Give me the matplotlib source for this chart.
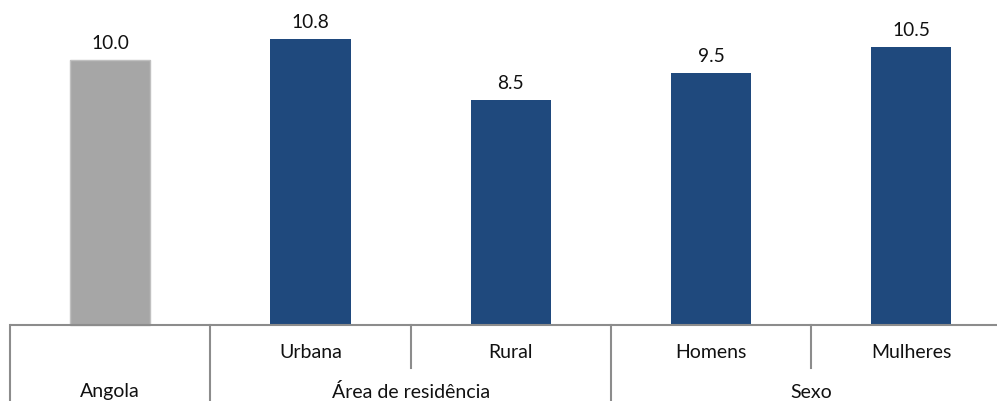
import matplotlib
matplotlib.use("Agg")
import matplotlib.pyplot as plt

categories = ["Angola", "Urbana", "Rural", "Homens", "Mulheres"]
values = [10.0, 10.8, 8.5, 9.5, 10.5]
group_labels = ["Angola", "Área de residência", "Sexo"]
group_spans = [(0, 1), (1, 3), (3, 5)]
colors = ["#a6a6a6", "#1f497d", "#1f497d", "#1f497d", "#1f497d"]

plt.rcParams['font.family'] = ['Lato', 'DejaVu Sans']

W, H = 997, 401
fig = plt.figure(figsize=(W / 100, H / 100), dpi=100)
left_px = 10
slot = 200.3
ax = fig.add_axes([left_px / W, 0, (W - left_px) / W, 1])
ax.set_xlim(0, (W - left_px) / slot)
scale = 26.5
base_px = 325
ax.set_ylim(-(H - base_px) / scale, base_px / scale)
ax.axis('off')

xs = [i + 0.5 for i in range(len(categories))]
bars = ax.bar(xs, values, width=0.4, color=colors, zorder=2)
bars[0].set_edgecolor("#c0c0c0")
bars[0].set_linewidth(1)

for x, v in zip(xs, values):
    ax.text(x, v + 0.3, f"{v:.1f}", ha='center', va='bottom', fontsize=13.8, color='#111111')

line_color = "#8c8c8c"
lw = 1.5
xmax = (W - left_px) / slot
ax.plot([0, xmax], [0, 0], color=line_color, lw=lw, solid_capstyle='butt', clip_on=False, zorder=3)
bottom = -(H - base_px) / scale
short = -(368 - base_px) / scale
# group boundaries full height, inner boundaries short
for b in [0, 1, 3]:
    ax.plot([b, b], [0, bottom], color=line_color, lw=lw, clip_on=False)
for b in [2, 4]:
    ax.plot([b, b], [0, short], color=line_color, lw=lw, clip_on=False)

sub_y = -(353 - base_px) / scale
for i, c in enumerate(categories):
    if i == 0:
        continue
    ax.text(xs[i], sub_y, c, ha='center', va='center', fontsize=14, color='#111111')

grp_y = -(392 - base_px) / scale
for lab, (a, b) in zip(group_labels, group_spans):
    ax.text((a + b) / 2, grp_y, lab, ha='center', va='center', fontsize=14, color='#111111')

fig.savefig("out.png", dpi=100)
